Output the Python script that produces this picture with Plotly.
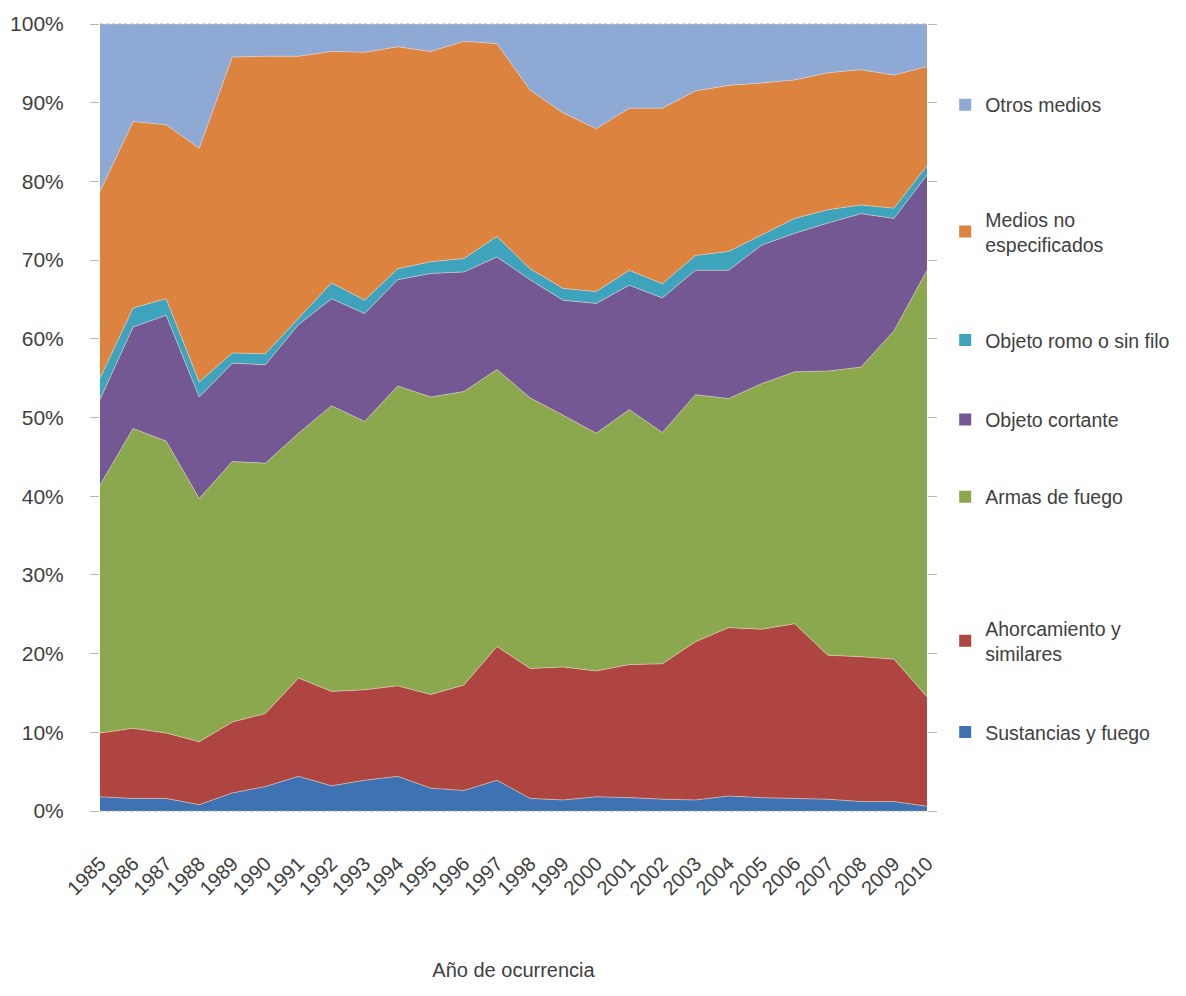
import plotly.graph_objects as go

years = list(range(1985, 2011))

sustancias = [1.8, 1.6, 1.6, 0.8, 2.3, 3.1, 4.4, 3.2, 3.9, 4.4, 2.9, 2.6, 3.9,
              1.6, 1.4, 1.8, 1.7, 1.5, 1.4, 1.9, 1.7, 1.6, 1.5, 1.2, 1.2, 0.6]
ahorcamiento = [8.1, 8.9, 8.3, 8.0, 9.0, 9.3, 12.5, 12.0, 11.5, 11.5, 11.9, 13.4, 17.0,
                16.5, 16.9, 16.0, 16.9, 17.2, 20.1, 21.4, 21.4, 22.2, 18.3, 18.4, 18.1, 13.9]
armas = [31.5, 38.1, 37.1, 30.9, 33.1, 31.8, 31.1, 36.3, 34.1, 38.1, 37.8, 37.3, 35.2,
         34.4, 32.0, 30.2, 32.4, 29.4, 31.4, 29.1, 31.2, 32.0, 36.1, 36.8, 41.7, 54.2]
cortante = [10.9, 12.9, 16.0, 12.9, 12.5, 12.5, 13.8, 13.6, 13.7, 13.5, 15.7, 15.2, 14.3,
            15.0, 14.6, 16.5, 15.8, 17.1, 15.8, 16.3, 17.6, 17.6, 18.8, 19.5, 14.3, 12.1]
romo = [2.7, 2.4, 2.1, 1.9, 1.3, 1.4, 0.8, 2.0, 1.7, 1.4, 1.5, 1.7, 2.6,
        1.4, 1.5, 1.5, 1.9, 1.8, 1.9, 2.4, 1.3, 1.9, 1.7, 1.1, 1.3, 1.2]
no_especificados = [23.7, 23.7, 22.1, 29.7, 37.6, 37.8, 33.3, 29.4, 31.5, 28.2, 26.7, 27.6, 24.5,
                    22.7, 22.3, 20.7, 20.6, 22.3, 20.9, 21.1, 19.3, 17.6, 17.4, 17.2, 16.9, 12.6]
otros = [21.3, 12.4, 12.8, 15.8, 4.2, 4.1, 4.1, 3.5, 3.6, 2.9, 3.5, 2.2, 2.5,
         8.4, 11.3, 13.3, 10.7, 10.7, 8.5, 7.8, 7.5, 7.1, 6.2, 5.8, 6.5, 5.4]

series_names = ["Sustancias y fuego", "Ahorcamiento y<br>similares", "Armas de fuego",
                "Objeto cortante", "Objeto romo o sin filo", "Medios no<br>especificados",
                "Otros medios"]
series_values = [sustancias, ahorcamiento, armas, cortante, romo, no_especificados, otros]
colors = ["#3E72B2", "#AE4541", "#8BA84F", "#735893", "#3EA3BD", "#DC833F", "#8FA9D5"]
legend_y = [0.100, 0.216, 0.399, 0.497, 0.598, 0.736, 0.897]

FONT = "Liberation Sans, Arial, sans-serif"
TXT = "#404040"

fig = go.Figure()
for name, vals, col in zip(series_names, series_values, colors):
    fig.add_trace(go.Scatter(
        x=years, y=vals, name=name, mode="lines",
        stackgroup="one", groupnorm="percent",
        fillcolor=col,
        line=dict(width=0.8, color="rgba(235,215,200,0.7)"),
        showlegend=False,
    ))

# legend entries (square swatches), one legend box per series
for i, (name, col) in enumerate(zip(series_names, colors)):
    lg = "legend" if i == 0 else f"legend{i+1}"
    fig.add_trace(go.Scatter(
        x=[None], y=[None], name=name, mode="markers",
        marker=dict(symbol="square", size=12, color=col),
        showlegend=True, legend=lg,
    ))

legend_common = dict(x=1.022, xanchor="left", yanchor="middle",
                     font=dict(family=FONT, size=19.5, color=TXT),
                     bgcolor="rgba(0,0,0,0)", itemwidth=30)
layout_legends = {}
for i, ly in enumerate(legend_y):
    key = "legend" if i == 0 else f"legend{i+1}"
    layout_legends[key] = dict(legend_common, y=ly)

fig.update_layout(
    width=1186, height=996,
    margin=dict(l=92, r=267, t=16, b=193, autoexpand=False),
    plot_bgcolor="white", paper_bgcolor="white",
    font=dict(family=FONT, size=20, color=TXT),
    showlegend=True,
    **layout_legends,
)

fig.update_xaxes(
    range=[1985, 2010], tickmode="linear", tick0=1985, dtick=1,
    tickangle=-45, showgrid=False, zeroline=False,
    ticks="", ticklabelstandoff=36,
    tickfont=dict(family=FONT, size=20, color=TXT),
    title=dict(text="Año de ocurrencia", standoff=64,
               font=dict(family=FONT, size=20, color=TXT)),
)
fig.update_yaxes(
    range=[0, 100], dtick=10, ticksuffix="%", showgrid=False, zeroline=False,
    ticks="outside", ticklen=9, tickcolor="#b8b8b8", tickwidth=1, mirror="ticks",
    ticklabelstandoff=22,
    tickfont=dict(family=FONT, size=21, color=TXT),
)

for yy in (0, 1):
    fig.add_shape(type="line", xref="paper", yref="paper", x0=0, x1=1, y0=yy, y1=yy,
                  line=dict(color="#a0a0a0", width=1, dash="dot"), layer="above")

fig.write_html("out.html")
